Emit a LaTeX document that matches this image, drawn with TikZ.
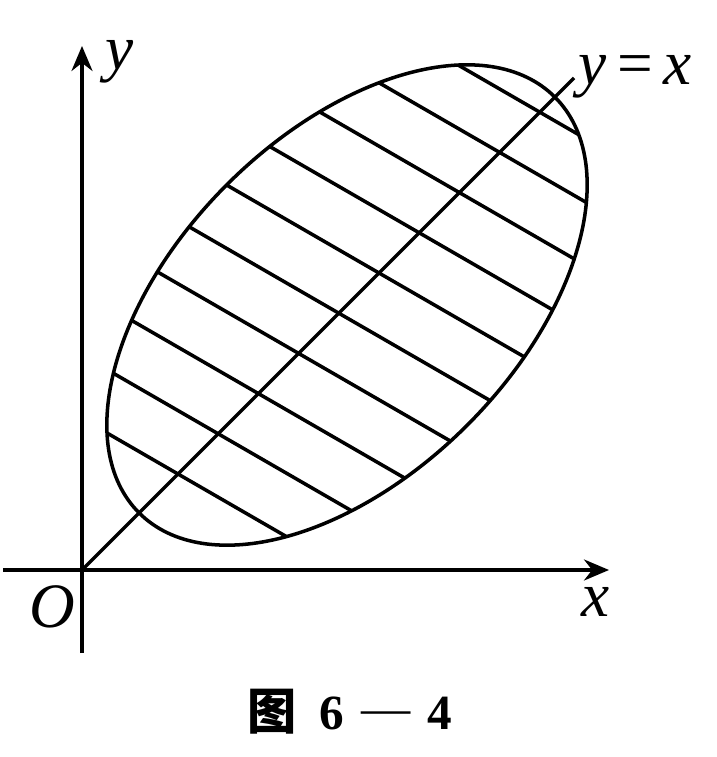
\documentclass[tikz,border=0pt]{standalone}
\usepackage{fontspec}
\setmainfont{Liberation Serif}
\newfontfamily\cjk{Noto Sans CJK SC}
\usetikzlibrary{arrows.meta}
\tikzset{
  axisln/.style={-{Stealth[length=2.5mm,width=2.1mm]}, line width=1pt},
  curveln/.style={line width=1pt},
  hatchln/.style={line width=1pt},
  lbl/.style={font=\fontsize{18}{20}\selectfont\itshape, inner sep=0pt},
}

\begin{document}
\begin{tikzpicture}
  \useasboundingbox (-0.82,-1.87) rectangle (6.35,5.70);
  % axes
  \draw[axisln] (-0.79,0) -- (5.27,0);
  \draw[axisln] (0,-0.83) -- (0,5.24);
  % y=x line
  \coordinate (O) at (0,0);
  \coordinate (diagend) at (4.92,4.92);
  \draw[curveln] (O) -- (diagend);
  % hatched region
  \begin{scope}
    \clip[rotate around={45:(2.65,2.65)}] (2.65,2.65) ellipse (2.94 and 1.70);
    \foreach \k in {0,...,9}{
      \pgfmathsetmacro{\pos}{0.96+0.402*\k}
      \draw[hatchln] (\pos,\pos) ++(150:3.5) -- ++(-30:7);
    }
  \end{scope}
  \draw[curveln, rotate around={45:(2.65,2.65)}] (2.65,2.65) ellipse (2.94 and 1.70);
  % labels
  \node[lbl] (ylab) at (0.38,5.08) {y};
  \node[lbl] (xlab) at (5.14,-0.32) {x};
  \node[lbl] (olab) at (-0.30,-0.37) {O};
  \node[lbl, anchor=west] (diaglab) at (4.96,4.93) {y\,\upshape=\,\itshape x};
  \node[font=\fontsize{14}{16}\selectfont\bfseries] (cap) at (2.68,-1.42)
    {{\cjk 图}\hspace{0.45em}6\hspace{0.35em}\raisebox{0.1em}{\mdseries —}\hspace{0.35em}4};
\end{tikzpicture}
\end{document}
